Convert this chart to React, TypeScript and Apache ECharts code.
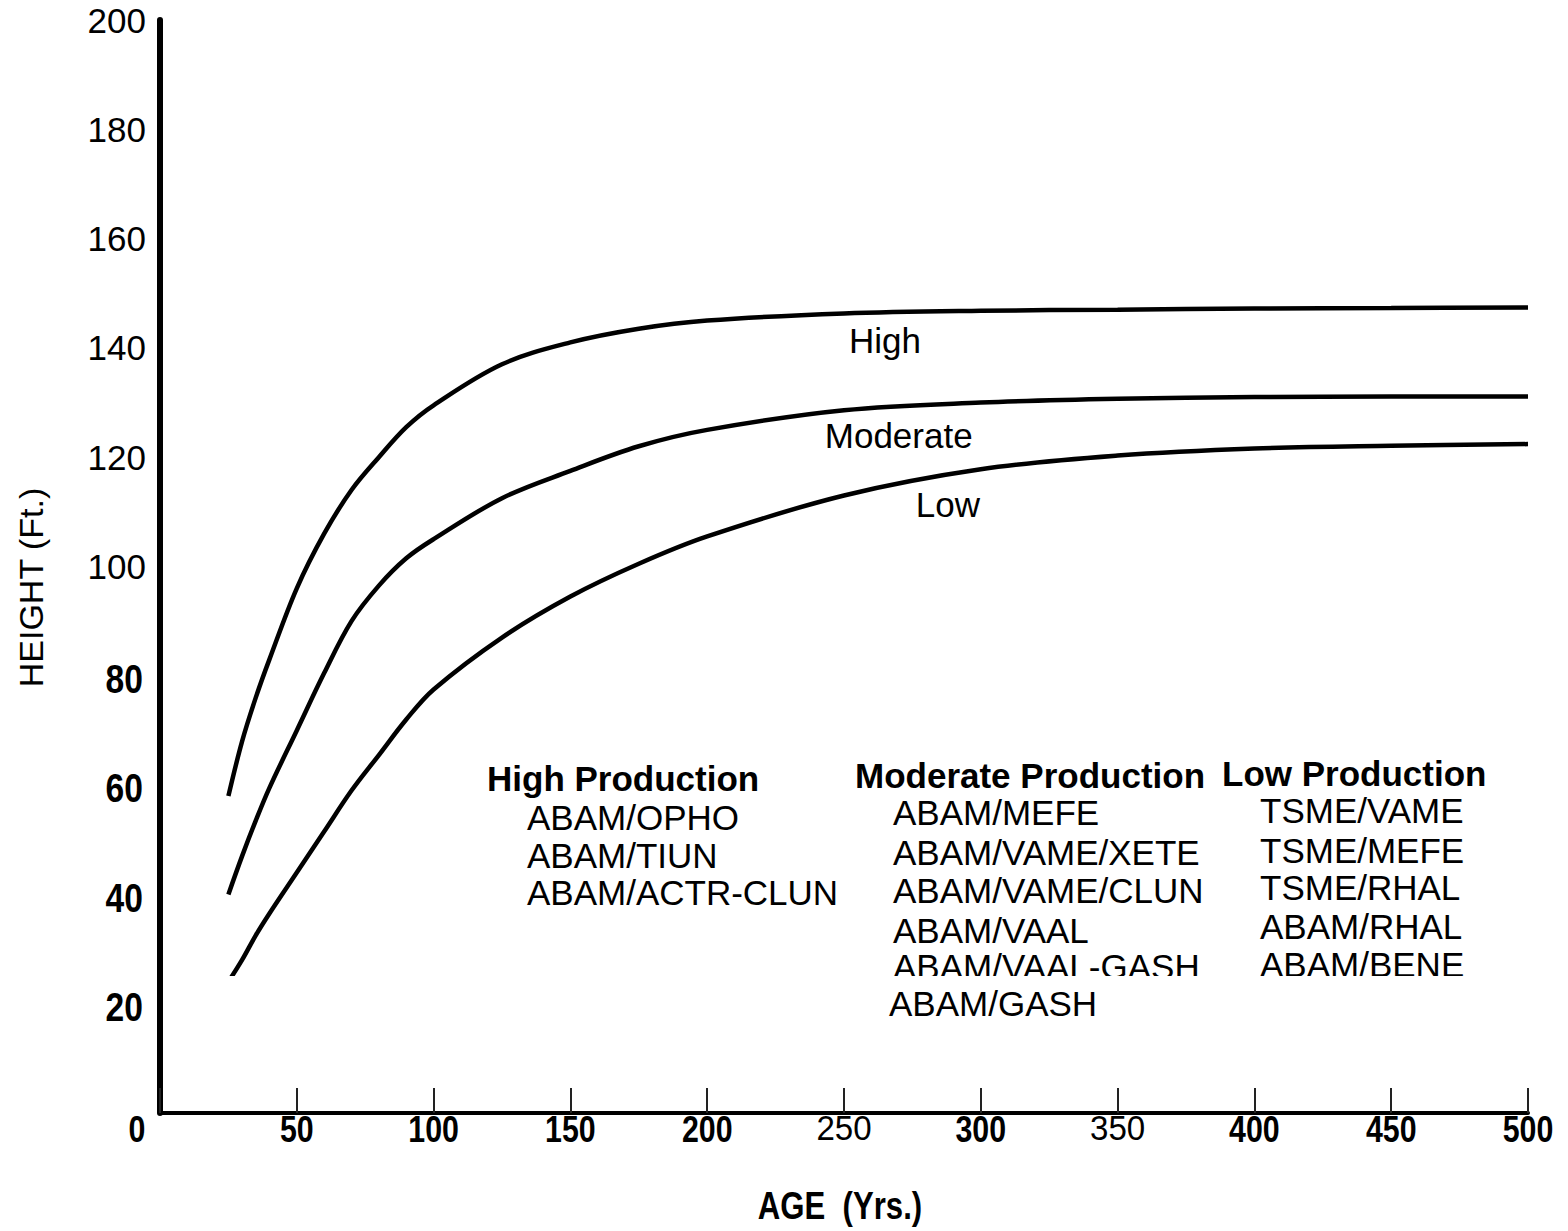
import React, { useEffect, useRef } from "react";
import * as echarts from "echarts";

// ---- data ----
const ages = [25, 30, 35, 40, 50, 60, 70, 80, 90, 100, 125, 150, 175, 200, 250, 300, 350, 400, 450, 500];
const highHeights = [58, 68, 76, 83, 96, 106, 114, 120, 125.5, 129.5, 137, 141, 143.5, 145, 146.3, 146.8, 147, 147.2, 147.3, 147.4];
const moderateHeights = [40, 47, 53.5, 59.5, 70, 80.5, 90, 96.5, 101.5, 105, 112.5, 117.5, 122, 125, 128.6, 130, 130.7, 131, 131.1, 131.1];
const lowHeights = [24, 28, 32.5, 36.5, 44, 51.5, 59, 65.5, 72, 77.5, 87, 94.5, 100.5, 105.5, 113, 117.8, 120.3, 121.6, 122.1, 122.4];

const curveLabelNames = ["High", "Moderate", "Low"];
const curveLabelAges = [265, 270, 288];
const curveLabelHeights = [141.4, 123.9, 111.3];

const xTickValues = [0, 50, 100, 150, 200, 250, 300, 350, 400, 450, 500];
const xTickLabels = ["0", "50", "100", "150", "200", "250", "300", "350", "400", "450", "500"];
const xTickBold = [true, true, true, true, true, false, true, false, true, true, true];
const yTickValues = [20, 40, 60, 80, 100, 120, 140, 160, 180, 200];
const yTickLabels = ["20", "40", "60", "80", "100", "120", "140", "160", "180", "200"];
const yTickBold = [true, true, true, true, false, false, false, false, false, false];

const xAxisTitle = "AGE  (Yrs.)";
const yAxisTitle = "HEIGHT (Ft.)";

const highProductionTitle = "High Production";
const highProductionItems = ["ABAM/OPHO", "ABAM/TIUN", "ABAM/ACTR-CLUN"];
const moderateProductionTitle = "Moderate Production";
const moderateProductionItems = ["ABAM/MEFE", "ABAM/VAME/XETE", "ABAM/VAME/CLUN", "ABAM/VAAL", "ABAM/VAAL-GASH", "ABAM/GASH"];
const lowProductionTitle = "Low Production";
const lowProductionItems = ["TSME/VAME", "TSME/MEFE", "TSME/RHAL", "ABAM/RHAL", "ABAM/BENE"];

// ---- layout (pixels) ----
const SANS = "'Liberation Sans', Arial, Helvetica, sans-serif";
const NARROW_SCALE = 0.82;

const blockLayout = [
  { title: highProductionTitle, items: highProductionItems, tx: 487, ty: 778, iy: [817, 855, 892], ixs: [527, 527, 527] },
  { title: moderateProductionTitle, items: moderateProductionItems, tx: 855, ty: 775, iy: [812, 852, 890, 930, 966, 1003], ixs: [893, 893, 893, 893, 893, 889] },
  { title: lowProductionTitle, items: lowProductionItems, tx: 1222, ty: 773, iy: [810, 850, 887, 926, 964], ixs: [1260, 1260, 1260, 1260, 1260] },
];

const pairs = (ys: number[]) => ages.map((a, i) => [a, ys[i]]);

export default function App() {
  const ref = useRef<HTMLDivElement>(null);

  useEffect(() => {
    if (!ref.current) return;
    const chart = echarts.init(ref.current, null, { renderer: "svg" });

    const lineStyle = { color: "#000", width: 4.5 };

    chart.setOption({
      animation: false,
      backgroundColor: "#fff",
      grid: { left: 160, right: 40, top: 20, bottom: 118, containLabel: false },
      xAxis: {
        type: "value",
        min: 0,
        max: 500,
        interval: 50,
        axisLine: { show: true, lineStyle: { color: "#000", width: 4 } },
        axisTick: { show: true, inside: true, length: 25, lineStyle: { color: "#222", width: 2 } },
        splitLine: { show: false },
        axisLabel: { show: false },
      },
      yAxis: {
        type: "value",
        min: 0,
        max: 200,
        interval: 20,
        name: yAxisTitle,
        nameLocation: "middle",
        nameRotate: 90,
        nameGap: 112,
        nameTextStyle: { fontFamily: SANS, fontSize: 34, color: "#000", padding: [0, 42, 0, 0] },
        axisLine: { show: true, lineStyle: { color: "#000", width: 6 } },
        axisTick: { show: false },
        splitLine: { show: false },
        axisLabel: {
          margin: 14,
          formatter: (v: number) => {
            const i = yTickValues.indexOf(v);
            if (i < 0 || yTickBold[i]) return "";
            return yTickLabels[i];
          },
          fontFamily: SANS,
          fontSize: 35,
          color: "#000",
        },
      },
      series: [
        { name: "High", type: "line", data: pairs(highHeights), smooth: 0.35, symbol: "none", lineStyle },
        { name: "Moderate", type: "line", data: pairs(moderateHeights), smooth: 0.35, symbol: "none", lineStyle },
        { name: "Low", type: "line", data: pairs(lowHeights), smooth: 0.35, symbol: "none", lineStyle },
        {
          name: "curve labels",
          type: "scatter",
          symbolSize: 0,
          itemStyle: { color: "#000", opacity: 1 },
          data: curveLabelNames.map((n, i) => ({ value: [curveLabelAges[i], curveLabelHeights[i]], name: n })),
          label: {
            show: true,
            position: "inside",
            formatter: (p: any) => p.name,
            fontFamily: SANS,
            fontSize: 35,
            color: "#000",
            opacity: 1,
            textBorderWidth: 0,
          },
          silent: true,
        },
      ],
    });

    const graphics: any[] = [];
    // x tick labels (condensed, via scaled text), placed from the axis scale
    xTickValues.forEach((v, i) => {
      const [px] = chart.convertToPixel({ xAxisIndex: 0, yAxisIndex: 0 }, [v, 0]) as number[];
      const bold = xTickBold[i];
      graphics.push({
        type: "text",
        x: v === 0 ? px - 23 : px,
        y: bold ? 1129 : 1128,
        scaleX: bold ? NARROW_SCALE : 0.92,
        style: {
          text: xTickLabels[i],
          fontFamily: SANS,
          fontWeight: bold ? "bold" : "normal",
          fontSize: bold ? 37 : 36,
          fill: "#000",
          align: "center",
          verticalAlign: "middle",
        },
      });
    });
    // bold y tick labels
    yTickValues.forEach((v, i) => {
      if (!yTickBold[i]) return;
      const [, py] = chart.convertToPixel({ xAxisIndex: 0, yAxisIndex: 0 }, [0, v]) as number[];
      graphics.push({
        type: "text",
        x: 143,
        y: py + 3,
        scaleX: NARROW_SCALE,
        style: {
          text: yTickLabels[i],
          fontFamily: SANS,
          fontWeight: "bold",
          fontSize: 41,
          fill: "#000",
          align: "right",
          verticalAlign: "middle",
        },
      });
    });
    // x axis title
    graphics.push({
      type: "text",
      x: 840,
      y: 1206,
      scaleX: NARROW_SCALE,
      style: { text: xAxisTitle, fontFamily: SANS, fontWeight: "bold", fontSize: 38, fill: "#000", align: "center", verticalAlign: "middle" },
    });

    blockLayout.forEach((b) => {
      graphics.push({
        type: "text",
        x: b.tx,
        y: b.ty,
        z: 10,
        style: { text: b.title, fontFamily: SANS, fontWeight: "bold", fontSize: 35, fill: "#000", align: "left", verticalAlign: "middle" },
      });
      b.items.forEach((t, i) => {
        graphics.push({
          type: "text",
          x: b.ixs[i],
          y: b.iy[i],
          z: 10,
          style: { text: t, fontFamily: SANS, fontSize: 35, fill: "#000", align: "left", verticalAlign: "middle" },
        });
      });
    });
    // scan artefact: white strip crossing the lists
    graphics.push({
      type: "rect",
      z: 20,
      shape: { x: 224, y: 976, width: 1250, height: 9 },
      style: { fill: "#fff" },
    });

    chart.setOption({ graphic: graphics });

    return () => chart.dispose();
  }, []);

  return (
    <div
      ref={ref}
      style={{ position: "absolute", left: 0, top: 0, width: 1568, height: 1231, background: "#fff" }}
    />
  );
}
